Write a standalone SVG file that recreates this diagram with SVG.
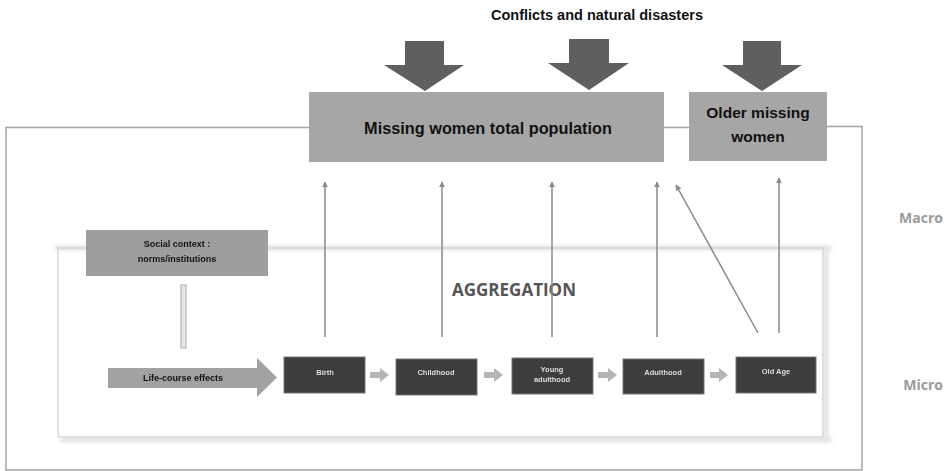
<svg xmlns="http://www.w3.org/2000/svg" width="949" height="471" viewBox="0 0 949 471">
<style>
.frame{fill:none;stroke:#a3a3a3;stroke-width:1.5}
.box{fill:#a6a6a6}
.big{fill:#5f5f5f}
.lbl{font-family:"Liberation Sans",Arial,sans-serif;font-weight:bold;fill:#111;text-anchor:middle}
.side{font-family:"Open Sans","Liberation Sans",sans-serif;font-weight:bold;fill:#9a9a9a;font-size:14px;text-anchor:end}
.agg{stroke:#888;stroke-width:1.5;fill:none;marker-end:url(#ah)}
.dark{fill:#3d3d3d;stroke:#777;stroke-width:1}
.wt{font-family:"Liberation Sans",Arial,sans-serif;font-weight:bold;fill:#ddd;font-size:7.5px;text-anchor:middle}
.small{fill:#b5b5b5}
</style>
<defs>
<marker id="ah" viewBox="0 0 10 10" refX="9" refY="5" markerWidth="6" markerHeight="6" orient="auto-start-reverse" markerUnits="userSpaceOnUse">
<path d="M0,0 L10,5 L0,10 z" fill="#888"/>
</marker>
<filter id="blur" x="-5%" y="-5%" width="110%" height="110%"><feGaussianBlur stdDeviation="0.7"/></filter>
<filter id="blur2" x="-5%" y="-20%" width="110%" height="140%"><feGaussianBlur stdDeviation="1.6"/></filter>
</defs>

<!-- outer frame -->
<g id="outer-frame">
<path class="frame" d="M309,127.5 H6 V470 H862 V126.5 H827"/>
<path class="frame" d="M664,127.5 H689"/>
</g>

<!-- faded lower picture frame -->
<g id="micro-frame">
<path d="M55,248 H832 M826,248 V440 M60,440 H832" fill="none" stroke="#e4e4e4" stroke-width="5" filter="url(#blur2)"/>
<rect x="58" y="248" width="765" height="189" fill="none" stroke="#d4d4d4" stroke-width="1.3" filter="url(#blur)"/>
</g>

<text class="lbl" x="597" y="20" font-size="14.5">Conflicts and natural disasters</text>

<g id="shock-arrows">
<polygon class="big" points="405,41 444,41 444,65 464,65 425,91 384,65 405,65"/>
<polygon class="big" points="569,39 609,39 609,63 629,63 589,90 548,63 569,63"/>
<polygon class="big" points="743,41 781,41 781,65 802,65 762,91 722,65 743,65"/>
</g>

<g id="node-total">
<rect class="box" x="309" y="92" width="355" height="70"/>
<text class="lbl" x="488" y="134" font-size="16.3">Missing women total population</text>
</g>

<g id="node-older">
<rect class="box" x="689" y="92" width="138" height="69"/>
<text class="lbl" x="758" y="118" font-size="15.5">Older missing</text>
<text class="lbl" x="758" y="142" font-size="15.5">women</text>
</g>

<text class="side" x="943" y="223">Macro</text>
<text class="side" x="943" y="390">Micro</text>

<text x="514" y="296" font-family="Open Sans, Liberation Sans, sans-serif" font-weight="bold" font-size="17" fill="#555" text-anchor="middle">AGGREGATION</text>

<g id="lower" filter="url(#blur)">
<g id="node-social">
<rect x="86" y="230" width="182" height="46" fill="#9e9e9e"/>
<text class="lbl" x="177" y="247" font-size="9" fill="#222">Social context :</text>
<text class="lbl" x="177" y="262" font-size="9" fill="#222">norms/institutions</text>
</g>
<g id="node-lifecourse">
<polygon points="108,368 257,368 257,358 277,377.5 257,397 257,388 108,388" fill="#a2a2a2"/>
<text class="lbl" x="183" y="381" font-size="9" fill="#222">Life-course effects</text>
</g>
<g id="node-birth"><rect class="dark" x="284" y="357" width="81" height="36"/><text class="wt" x="325" y="375">Birth</text></g>
<g id="node-childhood"><rect class="dark" x="396" y="359" width="81" height="36"/><text class="wt" x="436" y="375">Childhood</text></g>
<g id="node-young"><rect class="dark" x="512" y="358" width="81" height="36"/><text class="wt" x="552" y="372">Young</text><text class="wt" x="552" y="382">adulthood</text></g>
<g id="node-adulthood"><rect class="dark" x="623" y="359" width="81" height="35"/><text class="wt" x="663" y="375">Adulthood</text></g>
<g id="node-oldage"><rect class="dark" x="736" y="357" width="80" height="36"/><text class="wt" x="776" y="374">Old Age</text></g>
<g id="small-arrows">
<polygon class="small" points="370,372 380,372 380,368 389,375 380,382 380,378 370,378"/>
<polygon class="small" points="484,372 494,372 494,368 503,375 494,382 494,378 484,378"/>
<polygon class="small" points="598,372 608,372 608,368 617,375 608,382 608,378 598,378"/>
<polygon class="small" points="710,372 719,372 719,368 728,375 719,382 719,378 710,378"/>
</g>
<g id="social-arrow">
<rect x="181" y="285" width="5" height="63" fill="#e8e8e8" stroke="#a8a8a8" stroke-width="1"/>
</g>
</g>

<g id="connectors">
<line class="agg" x1="325" y1="337" x2="325" y2="182"/>
<line class="agg" x1="442" y1="337" x2="442" y2="182"/>
<line class="agg" x1="552" y1="337" x2="552" y2="182"/>
<line class="agg" x1="657" y1="337" x2="657" y2="182"/>
<line class="agg" x1="758" y1="333" x2="676" y2="185"/>
<line class="agg" x1="779" y1="333" x2="779" y2="178"/>
</g>
</svg>
